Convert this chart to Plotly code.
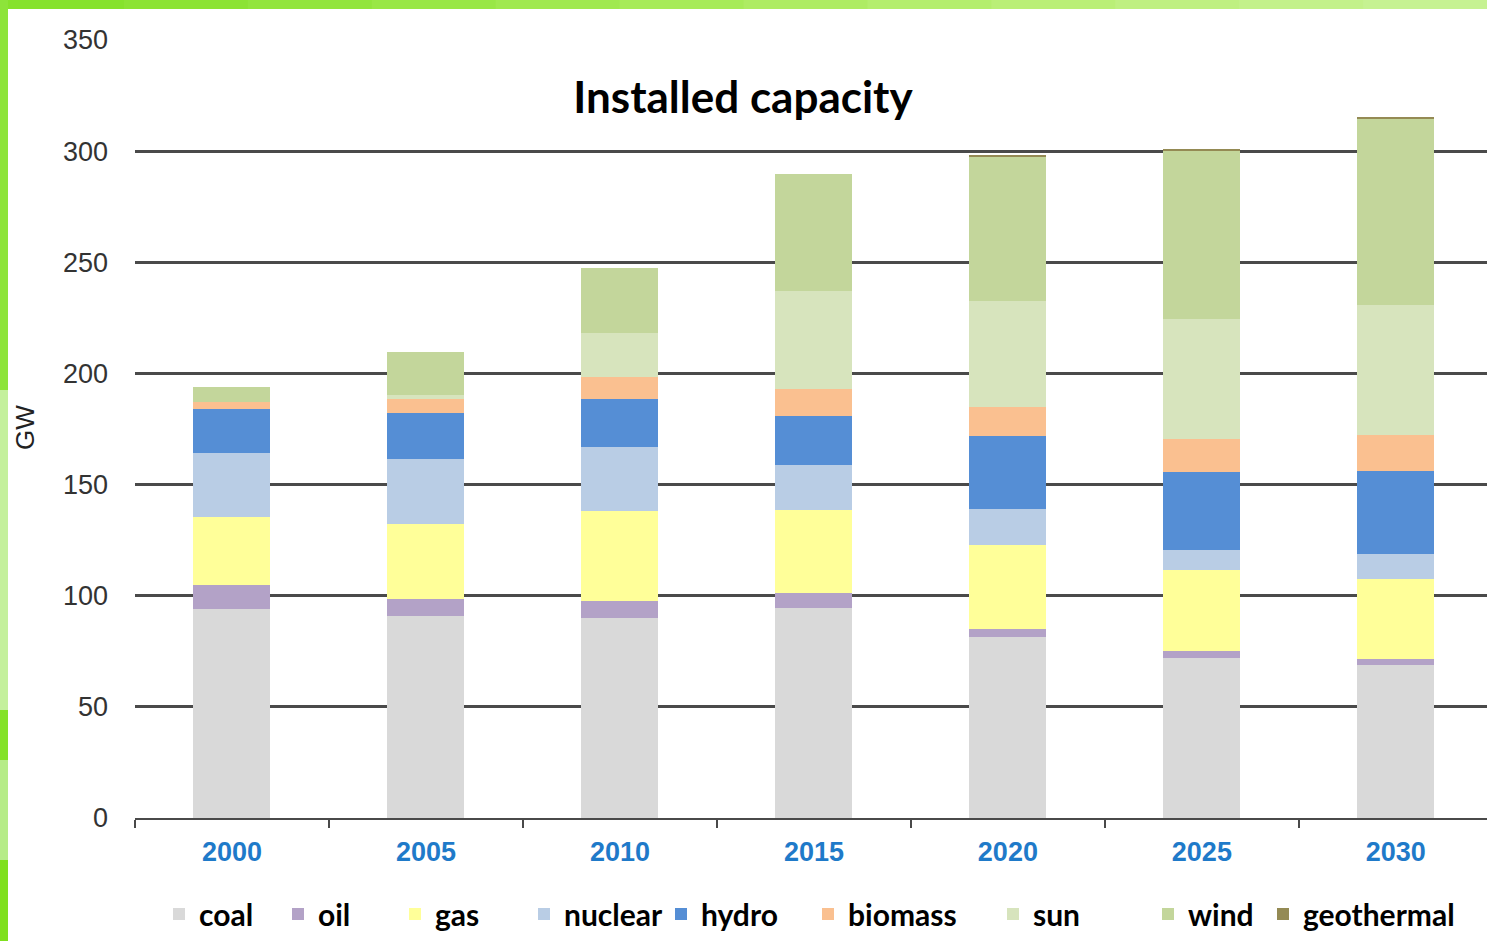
import plotly.graph_objects as go

# Installed generating capacity by source (GW)
years = ["2000", "2005", "2010", "2015", "2020", "2025", "2030"]
coal = [94.0, 91.0, 90.1, 94.6, 81.3, 72.0, 68.9]
oil = [10.8, 7.5, 7.5, 6.5, 3.6, 3.1, 2.5]
gas = [30.8, 33.8, 40.5, 37.3, 38.1, 36.5, 35.9]
nuclear = [28.4, 29.2, 28.7, 20.3, 16.1, 9.0, 11.5]
hydro = [20.1, 20.6, 21.6, 22.3, 32.6, 35.1, 37.3]
biomass = [3.2, 6.3, 9.9, 11.9, 13.2, 14.8, 16.2]
sun = [0.0, 1.8, 19.9, 44.2, 47.7, 53.8, 58.3]
wind = [6.7, 19.4, 29.4, 52.6, 65.0, 76.0, 84.0]
geothermal = [0.0, 0.0, 0.0, 0.0, 0.6, 0.7, 0.6]

sources = ["coal", "oil", "gas", "nuclear", "hydro", "biomass", "sun", "wind", "geothermal"]
values = [coal, oil, gas, nuclear, hydro, biomass, sun, wind, geothermal]
colors = ["#D9D9D9", "#B3A2C7", "#FFFF99", "#B9CDE5", "#558ED5",
          "#FAC090", "#D7E4BD", "#C3D69B", "#948A54"]
# left edge (px) of each legend entry's text
legend_text_x = [199, 318, 435, 564, 701, 848, 1033, 1188, 1303]

W, H = 1487, 941
ML, MR, MT, MB = 135, 0, 40, 123
PW, PH = W - ML - MR, H - MT - MB


def px_x(p):
    return (p - ML) / PW


def px_y(p):
    return (H - MB - p) / PH


fig = go.Figure()
legend_layout = {}
for i, (name, vals, col) in enumerate(zip(sources, values, colors)):
    key = "legend" if i == 0 else f"legend{i + 1}"
    fig.add_trace(go.Bar(
        x=years, y=vals, name=name, marker=dict(color=col, line=dict(width=0)),
        legend=key, showlegend=True,
    ))
    legend_layout[key] = dict(
        xref="container", yref="container",
        x=(legend_text_x[i] - 40) / W, y=1 - 914 / H,
        xanchor="left", yanchor="middle",
        bgcolor="rgba(0,0,0,0)", borderwidth=0,
        font=dict(family="Lato", size=30, color="#000000", weight="bold"),
        itemsizing="constant",
    )

# decorative green frame along the top and left edges
shapes = []
top_cols = ["#86E22C", "#8CE334", "#92E53D", "#99E746", "#A0E94F", "#A7EB59",
            "#AEEC63", "#B4EE6D", "#BAEF77", "#BFF081", "#C3F18A", "#C6F292"]
seg = W / len(top_cols)
for k, c in enumerate(top_cols):
    shapes.append(dict(type="rect", xref="paper", yref="paper",
                       x0=px_x(k * seg), x1=px_x((k + 1) * seg + 1),
                       y0=px_y(9), y1=px_y(0), fillcolor=c,
                       line=dict(width=0), layer="below"))
left_bands = [(0, 390, "#8DE43A"), (390, 710, "#C4F09C"), (710, 760, "#84E228"),
              (760, 860, "#B6EC88"), (860, 941, "#7FE01E")]
for y0, y1, c in left_bands:
    shapes.append(dict(type="rect", xref="paper", yref="paper",
                       x0=px_x(0), x1=px_x(8), y0=px_y(y1), y1=px_y(y0),
                       fillcolor=c, line=dict(width=0), layer="below"))

fig.update_layout(
    width=W, height=H,
    margin=dict(l=ML, r=MR, t=MT, b=MB, pad=0, autoexpand=False),
    paper_bgcolor="white", plot_bgcolor="white",
    barmode="stack", bargap=0.603,
    title=dict(text="<b>Installed capacity</b>", xref="container", yref="container",
               x=743 / W, y=1 - 98 / H, xanchor="center", yanchor="middle",
               font=dict(family="Lato", size=44, color="#000000")),
    xaxis=dict(
        type="category", range=[-0.5, 6.47], showgrid=False, automargin=False,
        showline=True, linecolor="#4A4A4A", linewidth=2,
        ticks="outside", tickson="boundaries", ticklen=8, tickwidth=2, tickcolor="#4A4A4A",
        tickfont=dict(family="Liberation Sans", size=27, color="#1F7AC9", weight="bold"),
        ticklabelstandoff=9,
    ),
    yaxis=dict(
        range=[0, 350], dtick=50, showgrid=True, gridcolor="#4A4A4A", gridwidth=2.5,
        zeroline=False, showline=False, ticks="", automargin=False,
        tickfont=dict(family="Liberation Sans", size=27, color="#333333"),
        ticklabelstandoff=26,
    ),
    shapes=shapes,
    annotations=[dict(text="GW", xref="paper", yref="paper", x=px_x(25), y=px_y(428),
                      textangle=-90, showarrow=False, xanchor="center", yanchor="middle",
                      font=dict(family="Liberation Sans", size=26, color="#222222"))],
    **legend_layout,
)

fig.write_html("out.html")
